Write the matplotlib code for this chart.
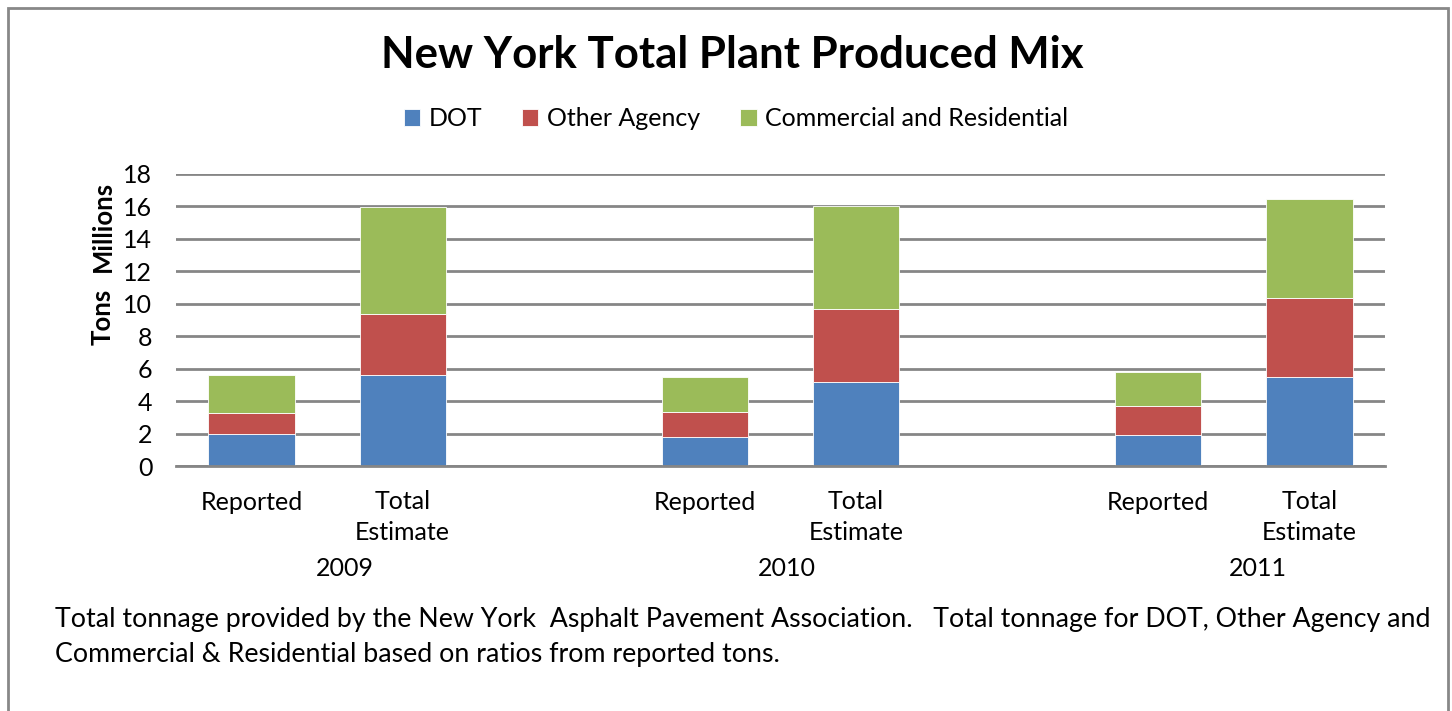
import matplotlib
matplotlib.use("Agg")
import matplotlib.pyplot as plt
from matplotlib.patches import Rectangle
import matplotlib.transforms as mtransforms

# ---- data (millions of tons) ----
years = ["2009", "2010", "2011"]
kinds = ["Reported", "Total\nEstimate"]
series_names = ["DOT", "Other Agency", "Commercial and Residential"]
dot = [1.98, 5.64, 1.77, 5.20, 1.92, 5.47]
other = [1.28, 3.75, 1.55, 4.50, 1.75, 4.91]
comm = [2.33, 6.57, 2.17, 6.32, 2.15, 6.10]
colors = ["#4F81BD", "#C0504D", "#9BBB59"]
yticks = [0, 2, 4, 6, 8, 10, 12, 14, 16, 18]
footnote = ("Total tonnage provided by the New York  Asphalt Pavement Association.   "
            "Total tonnage for DOT, Other Agency and\n"
            "Commercial & Residential based on ratios from reported tons.")

FONT = ["Lato", "DejaVu Sans"]
plt.rcParams['font.family'] = FONT

W, H = 1452, 711
fig = plt.figure(figsize=(W / 100, H / 100), dpi=100)

# slot positions: 2 bars per year + one blank slot between groups
positions = []
for g in range(len(years)):
    for k in range(len(kinds)):
        positions.append(g * 3 + k)

ax = fig.add_axes([176 / W, 1 - 466 / H, (1385 - 176) / W, (466 - 174) / H])
bw = 0.57
bottom = [0.0] * len(positions)
handles = []
for vals, c, name in zip([dot, other, comm], colors, series_names):
    b = ax.bar(positions, vals, bw, bottom=bottom, color=c, label=name,
               edgecolor="white", linewidth=0.6, zorder=3)
    handles.append(b)
    bottom = [bb + v for bb, v in zip(bottom, vals)]

ax.set_xlim(-0.5, 7.5)
ax.set_ylim(0, 18)
ax.set_yticks(yticks)
ax.set_yticklabels([str(t) for t in yticks], fontsize=18)
ax.tick_params(axis='y', length=0, pad=17)
ax.set_xticks([])
for s in ["left", "right", "top"]:
    ax.spines[s].set_visible(False)
ax.spines["bottom"].set_color("#868686")
ax.spines["bottom"].set_linewidth(2)
ax.spines["bottom"].set_zorder(4)
ax.yaxis.grid(True, color="#868686", linewidth=2, zorder=0)
ax.set_axisbelow(True)

# category labels
trans = mtransforms.blended_transform_factory(ax.transData, fig.transFigure)
for i, p in enumerate(positions):
    lab = kinds[i % 2]
    if "\n" in lab:
        ax.text(p, 1 - 517 / H, lab, transform=trans, ha="center", va="center",
                fontsize=18, linespacing=1.45, multialignment="center")
    else:
        ax.text(p, 1 - 502 / H, lab, transform=trans, ha="center", va="center",
                fontsize=18)
year_x = [0.62, 3.54, 6.66]
for yx, yr in zip(year_x, years):
    ax.text(yx, 1 - 568 / H, yr, transform=trans, ha="center", va="center", fontsize=18)

# axis titles
fig.text(103 / W, 1 - 226 / H, "Millions", rotation=90, ha="center", va="center",
         fontsize=18.5, fontweight="bold")
fig.text(103 / W, 1 - 317 / H, "Tons", rotation=90, ha="center", va="center",
         fontsize=18.5, fontweight="bold")

# title
fig.text(732 / W, 1 - 55 / H, "New York Total Plant Produced Mix", ha="center",
         va="center", fontsize=31.5, fontweight="bold")

# legend
fig.legend(handles=handles, labels=series_names, loc="center",
           bbox_to_anchor=(736 / W, 1 - 119 / H), ncol=3, frameon=False,
           fontsize=18, handlelength=0.65, handleheight=0.65, handletextpad=0.35,
           columnspacing=1.6)

# footnote
fig.text(55 / W, 1 - 637 / H, footnote, ha="left", va="center", fontsize=19.3,
         linespacing=1.5)

# frame
fig.patches.append(Rectangle((8 / W, -0.05), (1448 - 8) / W, (1 - 8 / H) + 0.05,
                             transform=fig.transFigure, fill=False,
                             edgecolor="#888888", linewidth=2))

fig.savefig("out.png", dpi=100, facecolor="white")
